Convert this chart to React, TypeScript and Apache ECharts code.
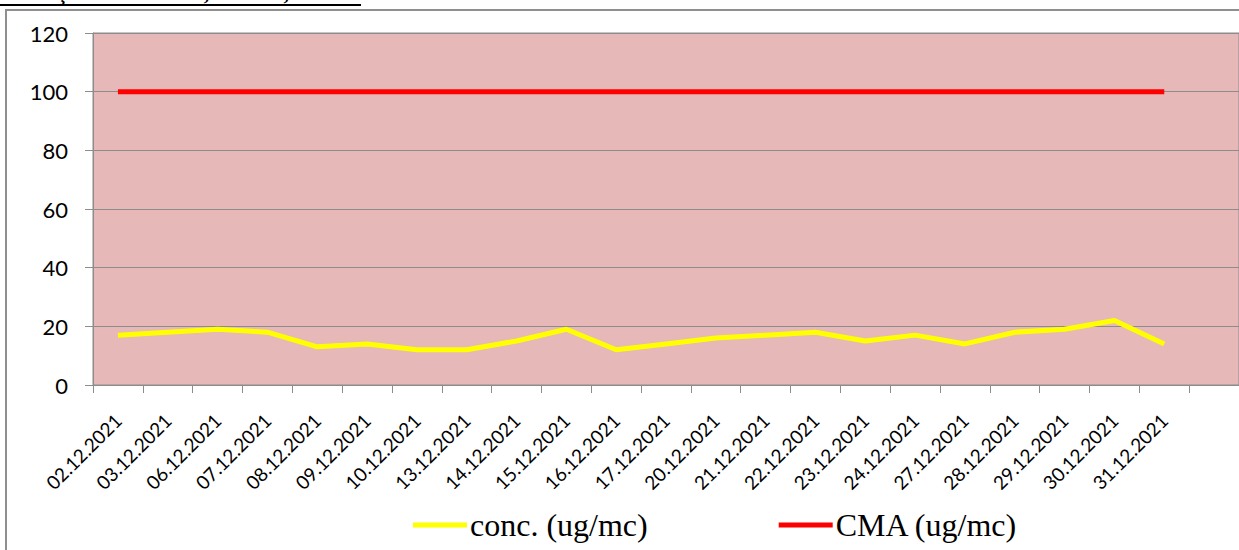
import React, { useEffect, useRef } from "react";
import * as echarts from "echarts";

const categories = [
  "02.12.2021", "03.12.2021", "06.12.2021", "07.12.2021", "08.12.2021",
  "09.12.2021", "10.12.2021", "13.12.2021", "14.12.2021", "15.12.2021",
  "16.12.2021", "17.12.2021", "20.12.2021", "21.12.2021", "22.12.2021",
  "23.12.2021", "24.12.2021", "27.12.2021", "28.12.2021", "29.12.2021",
  "30.12.2021", "31.12.2021", "",
];
const concValues = [17, 18, 19, 18, 13, 14, 12, 12, 15, 19, 12, 14, 16, 17, 18, 15, 17, 14, 18, 19, 22, 14, null];
const cmaValues = [100, 100, 100, 100, 100, 100, 100, 100, 100, 100, 100, 100, 100, 100, 100, 100, 100, 100, 100, 100, 100, 100, null];
const yTicks = { min: 0, max: 120, interval: 20 };
const titleText = "Str. Ştefan cel Mare, nr. 25C, Vaslui";

export default function App() {
  const ref = useRef<HTMLDivElement>(null);
  useEffect(() => {
    document.body.style.margin = "0";
    if (!ref.current) return;
    const chart = echarts.init(ref.current, null, { renderer: "svg" });
    const gray = "#8c8c8c";
    chart.setOption({
      animation: false,
      backgroundColor: "#ffffff",
      graphic: [
        {
          type: "rect",
          z: -10,
          shape: { x: 6, y: 10, width: 1400, height: 700 },
          style: { fill: "#ffffff", stroke: "#8f8f8f", lineWidth: 2 },
        },
        {
          type: "text",
          x: 352,
          y: 3,
          style: {
            text: titleText,
            align: "right",
            verticalAlign: "bottom",
            font: "bold 22px 'Liberation Serif'",
            fill: "#000",
          },
        },
        {
          type: "line",
          shape: { x1: 0, y1: 5, x2: 361, y2: 5 },
          style: { stroke: "#000", lineWidth: 2 },
        },
      ],
      grid: {
        left: 93,
        top: 33,
        right: -4,
        bottom: 165,
        show: true,
        backgroundColor: "#E6B8B7",
        borderColor: gray,
        borderWidth: 1,
      },
      legend: {
        left: 408,
        top: 504,
        itemGap: 131,
        itemWidth: 54,
        itemHeight: 5,
        icon: "rect",
        textStyle: { fontFamily: "'Liberation Serif'", fontSize: 32, color: "#000", padding: [0, 0, 0, -2] },
        data: [
          { name: "conc. (ug/mc)", itemStyle: { color: "#FFFF00" } },
          { name: "CMA (ug/mc)", itemStyle: { color: "#FF0000" } },
        ],
      },
      xAxis: {
        type: "category",
        data: categories,
        boundaryGap: true,
        axisLine: { show: true, lineStyle: { color: gray, width: 1 } },
        axisTick: { show: true, length: 8, interval: 0, lineStyle: { color: gray } },
        axisLabel: {
          interval: 0,
          rotate: 45,
          margin: 32,
          fontFamily: "Lato",
          fontSize: 19,
          color: "#000",
        },
        splitLine: { show: false },
      },
      yAxis: {
        type: "value",
        min: yTicks.min,
        max: yTicks.max,
        interval: yTicks.interval,
        axisLine: { show: true, lineStyle: { color: gray, width: 1 } },
        axisTick: { show: true, length: 8, lineStyle: { color: gray } },
        axisLabel: { margin: 25, fontFamily: "Lato", fontSize: 22, color: "#000" },
        splitLine: { show: true, lineStyle: { color: gray, width: 1 } },
      },
      series: [
        {
          name: "conc. (ug/mc)",
          type: "line",
          data: concValues,
          symbol: "none",
          lineStyle: { color: "#FFFF00", width: 5 },
          itemStyle: { color: "#FFFF00" },
          z: 3,
        },
        {
          name: "CMA (ug/mc)",
          type: "line",
          data: cmaValues,
          symbol: "none",
          lineStyle: { color: "#FF0000", width: 5 },
          itemStyle: { color: "#FF0000" },
          z: 3,
        },
      ],
    });
    return () => chart.dispose();
  }, []);
  return <div ref={ref} style={{ width: 1239, height: 550 }} />;
}
